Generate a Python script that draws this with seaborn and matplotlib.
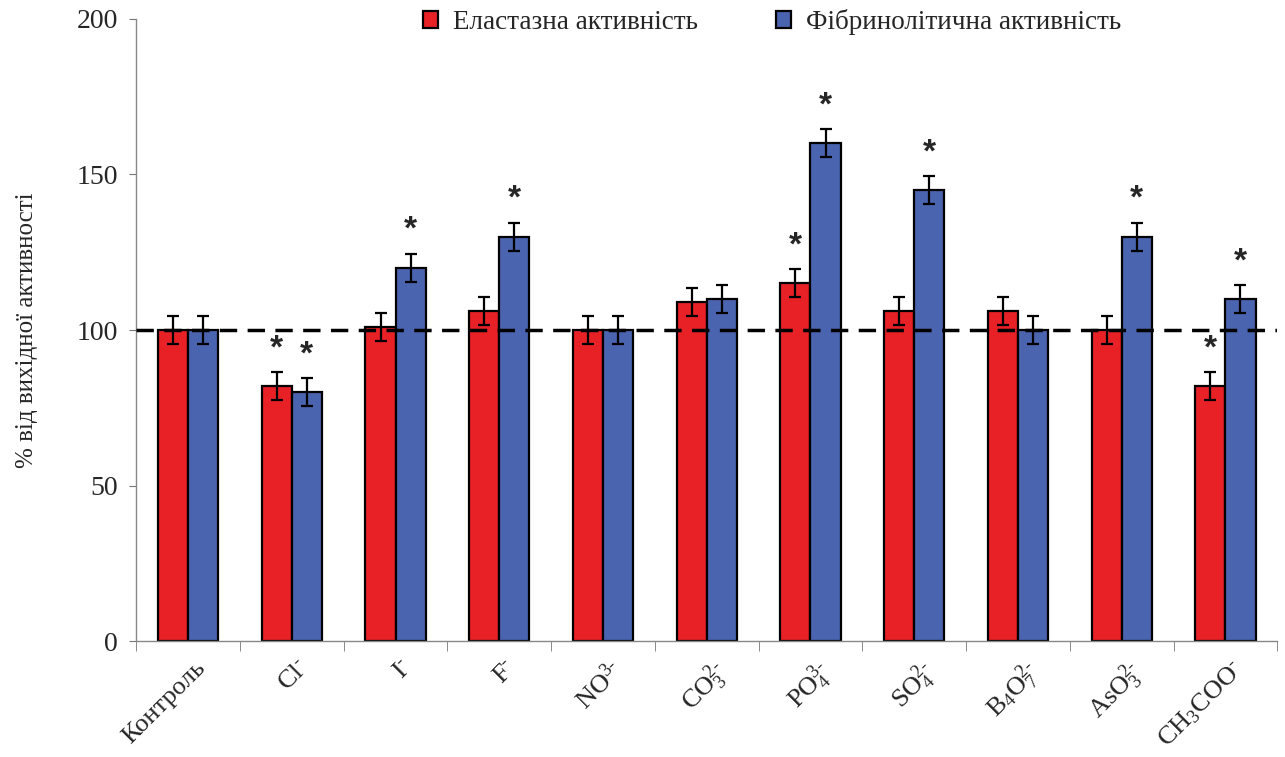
import numpy as np
import pandas as pd
import seaborn as sns
import matplotlib.pyplot as plt
import matplotlib.transforms as mtransforms

# data
categories = ["Контроль", r"$\mathrm{Cl^{\text{-}}}$", r"$\mathrm{I^{\text{-}}}$",
              r"$\mathrm{F^{\text{-}}}$", r"$\mathrm{NO^{3\text{-}}}$",
              r"$\mathrm{CO_3^{2\text{-}}}$", r"$\mathrm{PO_4^{3\text{-}}}$",
              r"$\mathrm{SO_4^{2\text{-}}}$", r"$\mathrm{B_4O_7^{2\text{-}}}$",
              r"$\mathrm{AsO_3^{2\text{-}}}$", r"$\mathrm{CH_3COO^{\text{-}}}$"]
elastase = [100, 82, 101, 106, 100, 109, 115, 106, 106, 100, 82]
fibrinolytic = [100, 80, 120, 130, 100, 110, 160, 145, 100, 130, 110]
elastase_err = [4.5] * 11
fibrinolytic_err = [4.5] * 11
elastase_sig = [0, 1, 0, 0, 0, 0, 1, 0, 0, 0, 1]
fibrinolytic_sig = [0, 1, 1, 1, 0, 0, 1, 1, 0, 1, 1]
series = ["Еластазна активність", "Фібринолітична активність"]

sns.set_style("white")
plt.rcParams["font.family"] = ["Liberation Serif", "DejaVu Serif"]
plt.rcParams["mathtext.fontset"] = "custom"
plt.rcParams["mathtext.rm"] = "Liberation Serif"
plt.rcParams["mathtext.it"] = "Liberation Serif:italic"

df = pd.DataFrame({
    "cat": categories * 2,
    "val": elastase + fibrinolytic,
    "series": [series[0]] * 11 + [series[1]] * 11,
})

fig = plt.figure(figsize=(12.85, 7.57), dpi=100)
ax = fig.add_axes([0.106, 0.153, 0.888, 0.822])

sns.barplot(data=df, x="cat", y="val", hue="series", order=categories,
            palette=["#E82127", "#4A64B0"], saturation=1, edgecolor="black",
            linewidth=1.6, width=0.58, errorbar=None, ax=ax)

errs = [elastase_err, fibrinolytic_err]
sigs = [elastase_sig, fibrinolytic_sig]
bar_groups = list(ax.containers)
for k, cont in enumerate(bar_groups):
    xs = [p.get_x() + p.get_width() / 2 for p in cont.patches]
    hs = [p.get_height() for p in cont.patches]
    ax.errorbar(xs, hs, yerr=errs[k], fmt="none", ecolor="black",
                elinewidth=1.6, capsize=4.5, capthick=1.6, zorder=4)
    for x, h, e, s in zip(xs, hs, errs[k], sigs[k]):
        if s:
            ax.text(x, h + e + 7.5, "*", ha="center", va="center",
                    fontsize=24, fontweight="bold", family="Liberation Sans")

ax.axhline(100, color="black", linestyle=(0, (5, 3)), linewidth=2.5, zorder=5)

ax.set_ylim(0, 200)
ax.set_xlim(-0.5, len(categories) - 0.5)
ax.set_yticks([0, 50, 100, 150, 200])
ax.tick_params(axis="y", labelsize=20, length=5, color="#777777", left=True, pad=8)
ax.set_xticks(range(len(categories)))
ax.set_xticklabels(categories, rotation=45, ha="right", rotation_mode="anchor",
                   fontsize=19)
ax.tick_params(axis="x", length=0, pad=11)
shift = mtransforms.ScaledTranslation(6 / 100, 0, fig.dpi_scale_trans)
for lab in ax.get_xticklabels():
    lab.set_transform(lab.get_transform() + shift)
ax.set_xticks(np.arange(-0.5, len(categories), 1.0), minor=True)
ax.tick_params(axis="x", which="minor", length=7, color="#777777", bottom=True)

for s in ["top", "right"]:
    ax.spines[s].set_visible(False)
for s in ["left", "bottom"]:
    ax.spines[s].set_color("#888888")
    ax.spines[s].set_linewidth(1)

ax.set_xlabel("")
ax.set_ylabel("% від вихідної активності", fontsize=18, labelpad=28)

ax.legend(loc="upper left", bbox_to_anchor=(0.23, 1.055), ncol=2, frameon=False,
          fontsize=19.5, handlelength=0.55, handleheight=0.55, columnspacing=2.9,
          handletextpad=0.55)

fig.savefig("out.png", dpi=100)
